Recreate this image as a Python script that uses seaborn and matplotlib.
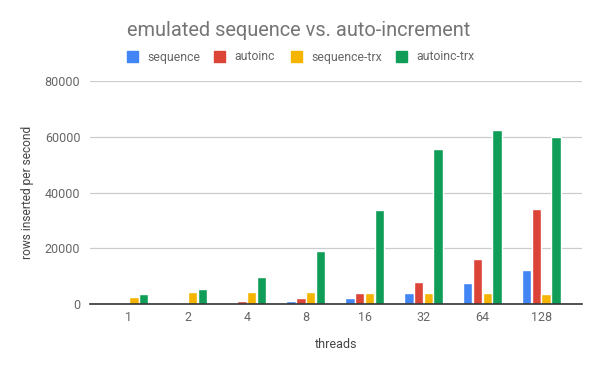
import pandas as pd
import matplotlib.pyplot as plt
import seaborn as sns

threads = ["1", "2", "4", "8", "16", "32", "64", "128"]
sequence = [100, 150, 400, 1000, 2100, 4000, 7500, 12200]
autoinc = [450, 400, 1100, 2100, 4000, 7900, 16100, 34100]
sequence_trx = [2500, 4300, 4300, 4300, 4000, 4000, 4000, 3600]
autoinc_trx = [3600, 5400, 9700, 19000, 33700, 55600, 62400, 59900]

series = ["sequence", "autoinc", "sequence-trx", "autoinc-trx"]
colors = ["#4285F4", "#DB4437", "#F4B400", "#0F9D58"]

df = pd.DataFrame({
    "threads": threads,
    "sequence": sequence,
    "autoinc": autoinc,
    "sequence-trx": sequence_trx,
    "autoinc-trx": autoinc_trx,
}).melt(id_vars="threads", var_name="series", value_name="rows")

sns.set_theme(style="white")
plt.rcParams["font.family"] = ["Roboto", "DejaVu Sans"]

fig = plt.figure(figsize=(6, 3.71), dpi=100)
ax = fig.add_axes([0.15, 0.18, 0.82, 0.602])

sns.barplot(data=df, x="threads", y="rows", hue="series", order=threads,
            hue_order=series, palette=colors, width=0.667, gap=0.03,
            saturation=1, legend=False, ax=ax)

ax.set_xlim(-0.66, 7.69)
ax.set_ylim(0, 80000)
ax.set_yticks([0, 20000, 40000, 60000, 80000])
ax.set_yticklabels(["0", "20000", "40000", "60000", "80000"])
ax.yaxis.grid(True, color="#cccccc", linewidth=0.9)
ax.set_axisbelow(True)
for s in ["top", "right", "left"]:
    ax.spines[s].set_visible(False)
ax.spines["bottom"].set_color("#333333")
ax.spines["bottom"].set_linewidth(1.2)
ax.tick_params(axis="both", length=0, labelsize=9, labelcolor="#666666")
ax.tick_params(axis="y", pad=7)
ax.tick_params(axis="x", pad=5)
ax.set_xlabel("threads", fontsize=9, color="#444444", labelpad=10)
ax.set_ylabel("rows inserted per second", fontsize=8.6, color="#444444", labelpad=8)

fig.text(127 / 600, 1 - 30 / 371, "emulated sequence vs. auto-increment",
         fontsize=14.4, color="#757575", va="center", ha="left")

leg_x = [127, 214, 291, 396]
for x, name, c in zip(leg_x, series, colors):
    fig.patches.append(plt.Rectangle((x / 600, 1 - 62 / 371), 11 / 600, 11 / 371,
                                     transform=fig.transFigure, color=c, figure=fig))
    fig.text((x + 20) / 600, 1 - 57 / 371, name, fontsize=8.8, color="#666666",
             va="center", ha="left")

fig.savefig("out.png", dpi=100)
